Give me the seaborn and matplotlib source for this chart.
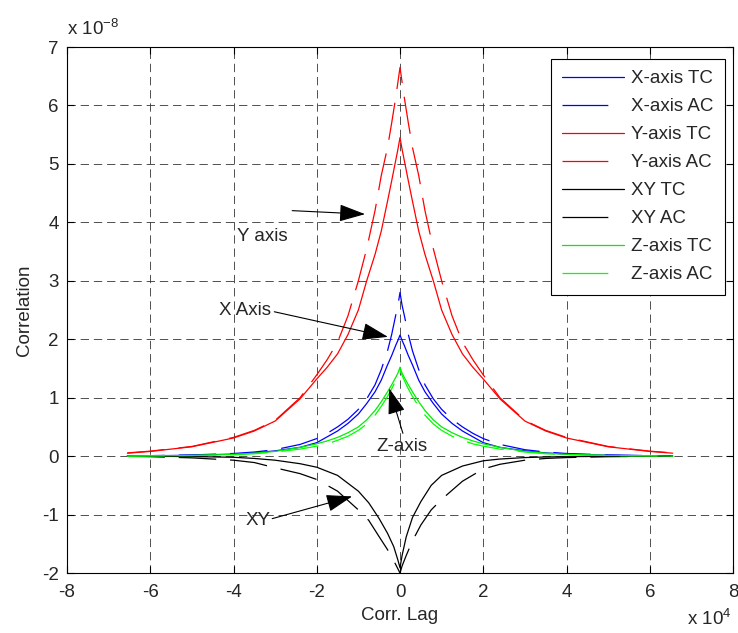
import numpy as np
import pandas as pd
import matplotlib
matplotlib.use("Agg")
import matplotlib.pyplot as plt
from matplotlib.lines import Line2D
import seaborn as sns

# ---------------- data (lag in units of 1e4, correlation in units of 1e-8) ----------------
half_lag = [0, 0.05, 0.1, 0.2, 0.3, 0.45, 0.6, 0.8, 1.0, 1.25, 1.5, 1.75, 2.0, 2.4, 3.0, 3.5, 4.0, 5.0, 6.0, 6.55]

x_tc = [2.07, 1.98, 1.90, 1.72, 1.56, 1.30, 1.10, 0.90, 0.72, 0.56, 0.43, 0.33, 0.23, 0.15, 0.09, 0.055, 0.035, 0.015, 0.006, 0.004]
x_ac = [2.80, 2.58, 2.42, 2.08, 1.80, 1.48, 1.22, 0.98, 0.80, 0.63, 0.50, 0.39, 0.30, 0.20, 0.11, 0.07, 0.045, 0.02, 0.008, 0.005]
y_tc = [5.45, 5.25, 5.07, 4.71, 4.36, 3.85, 3.45, 3.00, 2.50, 2.08, 1.75, 1.52, 1.32, 0.98, 0.60, 0.43, 0.31, 0.16, 0.08, 0.05]
y_ac = [6.65, 6.40, 6.15, 5.70, 5.28, 4.80, 4.20, 3.55, 3.00, 2.40, 1.95, 1.65, 1.39, 1.00, 0.61, 0.44, 0.32, 0.165, 0.085, 0.055]
z_tc = [1.52, 1.42, 1.35, 1.22, 1.10, 0.93, 0.78, 0.62, 0.50, 0.40, 0.32, 0.26, 0.21, 0.15, 0.08, 0.05, 0.03, 0.01, 0.005, 0.0]
z_ac = [1.47, 1.38, 1.30, 1.15, 1.02, 0.85, 0.70, 0.55, 0.44, 0.34, 0.27, 0.21, 0.17, 0.12, 0.07, 0.04, 0.025, 0.01, 0.004, 0.0]

xy_lag = [-6.55, -6, -5, -4, -3.5, -3, -2.4, -2, -1.5, -1, -0.75, -0.5, -0.3, -0.15, -0.05, 0,
          0.05, 0.15, 0.3, 0.5, 0.75, 1, 1.5, 2, 2.4, 3, 3.5, 4, 5, 6, 6.55]
xy_tc = [0.0, -0.003, -0.008, -0.02, -0.04, -0.07, -0.13, -0.19, -0.33, -0.60, -0.80, -1.07, -1.32, -1.55, -1.78, -1.91,
         -1.70, -1.38, -1.05, -0.78, -0.50, -0.33, -0.17, -0.08, -0.05, -0.025, -0.015, -0.01, -0.004, 0.0, 0.0]
xy_ac = [-0.005, -0.01, -0.03, -0.07, -0.11, -0.20, -0.30, -0.40, -0.60, -0.92, -1.10, -1.38, -1.60, -1.79, -1.93, -2.00,
         -1.88, -1.70, -1.45, -1.18, -0.92, -0.74, -0.43, -0.22, -0.14, -0.07, -0.04, -0.025, -0.01, -0.004, 0.0]

labels = ["X-axis TC", "X-axis AC", "Y-axis TC", "Y-axis AC", "XY TC", "XY AC", "Z-axis TC", "Z-axis AC"]
colors = ["#0000ff", "#0000ff", "#ff0000", "#ff0000", "#000000", "#000000", "#00ee00", "#00ff00"]

x_ticks = [-8, -6, -4, -2, 0, 2, 4, 6, 8]
y_ticks = [-2, -1, 0, 1, 2, 3, 4, 5, 6, 7]


def mirror(h, v):
    h = np.asarray(h, float)
    v = np.asarray(v, float)
    return np.concatenate([-h[:0:-1], h]), np.concatenate([v[:0:-1], v])


series = []
for vals in (x_tc, x_ac, y_tc, y_ac):
    series.append(mirror(half_lag, vals))
series.append((np.asarray(xy_lag), np.asarray(xy_tc)))
series.append((np.asarray(xy_lag), np.asarray(xy_ac)))
for vals in (z_tc, z_ac):
    series.append(mirror(half_lag, vals))

# ---------------- style ----------------
sns.set_style("white")
plt.rcParams["font.family"] = ["Liberation Sans", "DejaVu Sans"]
plt.rcParams["mathtext.fontset"] = "custom"
plt.rcParams["mathtext.rm"] = "Liberation Sans"
plt.rcParams["mathtext.it"] = "Liberation Sans"
plt.rcParams["lines.scale_dashes"] = False

FS = 13.5
fig = plt.figure(figsize=(7.38, 6.33), dpi=100)
ax = fig.add_axes([67 / 738, 1 - 573 / 633, (733 - 67) / 738, (573 - 47) / 633])

dash_ac = (0, (27, 10))
for i, ((lx, ly), lab, col) in enumerate(zip(series, labels, colors)):
    df = pd.DataFrame({"lag": lx, "corr": ly})
    ls = "-" if lab.endswith("TC") else dash_ac
    sns.lineplot(data=df, x="lag", y="corr", ax=ax, color=col, linestyle=ls,
                 lw=0.9, sort=False, estimator=None, label=lab, legend=False)

ax.set_xlim(-8, 8)
ax.set_ylim(-2, 7)
ax.set_xticks(x_ticks)
ax.set_yticks(y_ticks)
ax.set_xticklabels([str(t) for t in x_ticks], fontsize=FS)
ax.set_yticklabels([str(t) for t in y_ticks], fontsize=FS)
ax.tick_params(direction="in", length=5, width=0.8, top=True, right=True,
               bottom=True, left=True, color="k")
ax.tick_params(axis="x", pad=8)
ax.tick_params(axis="y", pad=6)
ax.grid(True, color="#333333", linestyle=(0, (6, 3.5)), lw=0.6)
for s in ax.spines.values():
    s.set_color("k")
    s.set_linewidth(0.8)

ax.set_xlabel("Corr. Lag", fontsize=FS, labelpad=4)
ax.set_ylabel("Correlation", fontsize=FS, labelpad=6)

ax.text(0.0, 1.015, r"x 10$^{-8}$", transform=ax.transAxes, ha="left", va="bottom", fontsize=FS)
fig.text(732 / 738, 4 / 633, r"x 10$^{4}$", ha="right", va="bottom", fontsize=FS)

# ---------------- annotations ----------------
ann = [
    ("Y axis", (-3.31, 3.76), (-2.59, 4.20), (-0.84, 4.14)),
    ("X Axis", (-3.72, 2.49), (-3.02, 2.47), (-0.29, 2.04)),
    ("Z-axis", (0.05, 0.17), (0.07, 0.39), (-0.26, 1.16)),
    ("XY", (-3.41, -1.10), (-3.07, -1.07), (-1.15, -0.69)),
]
for txt, tpos, tail, tip in ann:
    ax.annotate("", xy=tip, xytext=tail,
                arrowprops=dict(arrowstyle="-|>,head_length=0.9,head_width=0.3",
                                color="k", lw=0.8, mutation_scale=18,
                                shrinkA=0, shrinkB=0))
    ax.text(tpos[0], tpos[1], txt, ha="center", va="center", fontsize=FS)

# legend proxies: AC entries show a single long dash as in the original
handles = []
for lab, col in zip(labels, colors):
    ls = "-" if lab.endswith("TC") else (0, (33, 40))
    handles.append(Line2D([], [], color=col, lw=0.9, linestyle=ls))
leg = ax.legend(handles, labels, loc="upper right", bbox_to_anchor=(0.988, 0.977),
                borderaxespad=0, fontsize=FS, frameon=True, fancybox=False,
                framealpha=1, edgecolor="k", labelspacing=0.58, borderpad=0.6,
                handlelength=3.3, handletextpad=0.4)
leg.get_frame().set_linewidth(0.8)

fig.savefig("out.png", dpi=100)
